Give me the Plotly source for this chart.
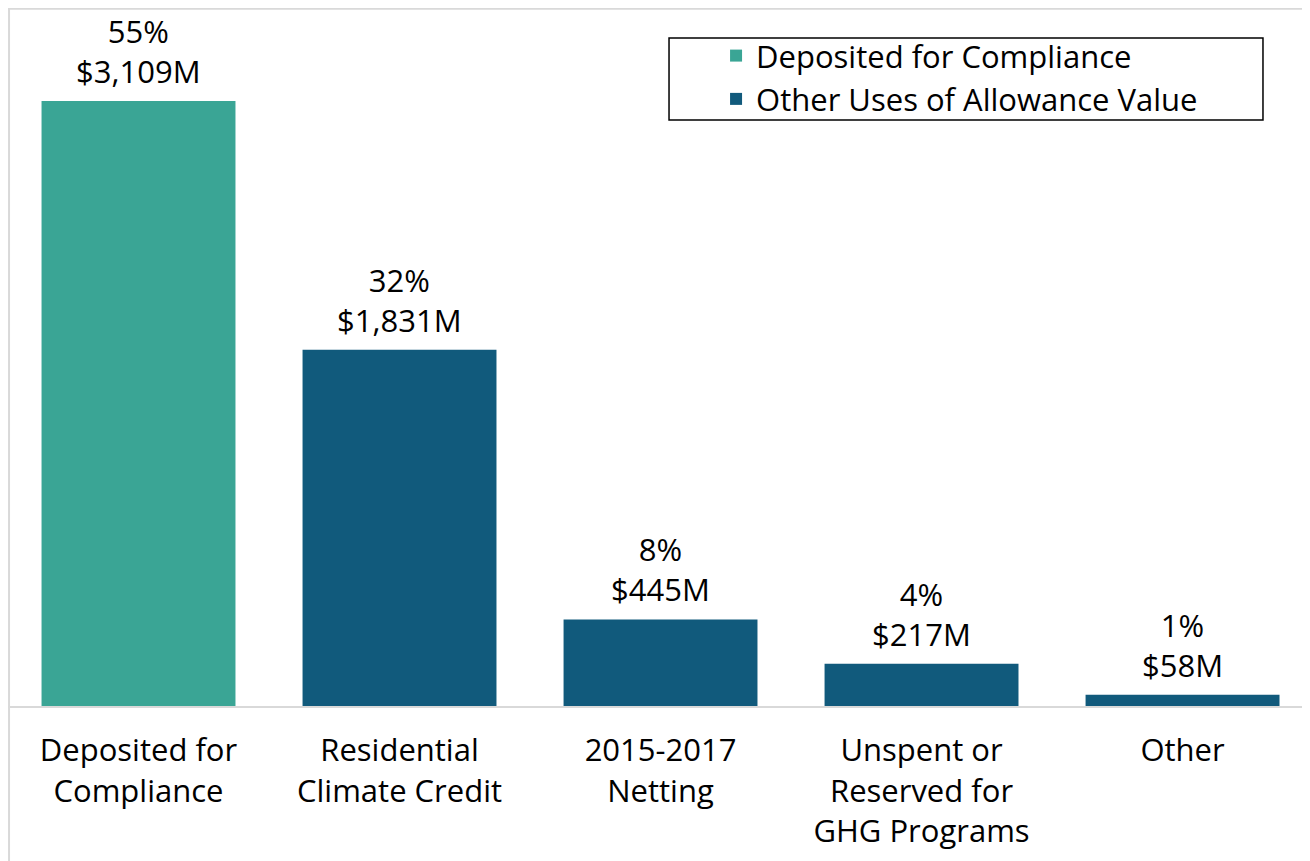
import plotly.graph_objects as go

categories = ["Deposited for<br>Compliance", "Residential<br>Climate Credit", "2015-2017<br>Netting",
              "Unspent or<br>Reserved for<br>GHG Programs", "Other"]
values = [3109, 1831, 445, 217, 58]
percents = [55, 32, 8, 4, 1]
series_names = ["Deposited for Compliance", "Other Uses of Allowance Value"]
colors = ["#3AA595", "#115A7C"]

FONT = "Open Sans"
FS = 31

fig = go.Figure()
fig.add_trace(go.Bar(x=categories[:1], y=values[:1], name=series_names[0],
                     marker=dict(color=colors[0], line=dict(width=0))))
fig.add_trace(go.Bar(x=categories[1:], y=values[1:], name=series_names[1],
                     marker=dict(color=colors[1], line=dict(width=0))))

for c, v, p in zip(categories, values, percents):
    fig.add_annotation(x=c, y=v, text=f"{p}%<br>${v:,}M", showarrow=False,
                       yanchor="bottom", yshift=7,
                       font=dict(family=FONT, size=FS, color="#000000"))

# chart frame lines (left and top)
fig.add_shape(type="line", xref="paper", yref="paper", x0=0.0008, x1=0.0008, y0=-0.3, y1=1,
              line=dict(color="#d9d9d9", width=2))
fig.add_shape(type="line", xref="paper", yref="paper", x0=0, x1=1.0, y0=0.999, y1=0.999,
              line=dict(color="#d9d9d9", width=2))
# legend frame
fig.add_shape(type="rect", xref="paper", yref="paper", x0=0.5046, x1=0.958, y0=0.8395, y1=0.957,
              line=dict(color="#000000", width=1.5), fillcolor="white", layer="below")

fig.update_layout(
    width=1310, height=861,
    margin=dict(l=0, r=0, t=0, b=163),
    plot_bgcolor="white", paper_bgcolor="white",
    barmode="overlay", bargap=0.257,
    font=dict(family=FONT, size=FS, color="#000000"),
    showlegend=True,
    legend=dict(x=0.5405, xanchor="left", y=0.970, yanchor="top",
                borderwidth=0, bgcolor="rgba(0,0,0,0)",
                font=dict(family=FONT, size=FS, color="#000000"),
                tracegroupgap=0, itemsizing="constant"),
    xaxis=dict(showline=True, linecolor="#d9d9d9", linewidth=2, showgrid=False,
               ticks="outside", ticklen=16, tickcolor="rgba(0,0,0,0)",
               tickfont=dict(family=FONT, size=FS, color="#000000"),
               range=[-0.5, 4.519]),
    yaxis=dict(range=[0, 3587], showgrid=False, showticklabels=False, zeroline=False,
               showline=False),
)

fig.write_html("out.html")
